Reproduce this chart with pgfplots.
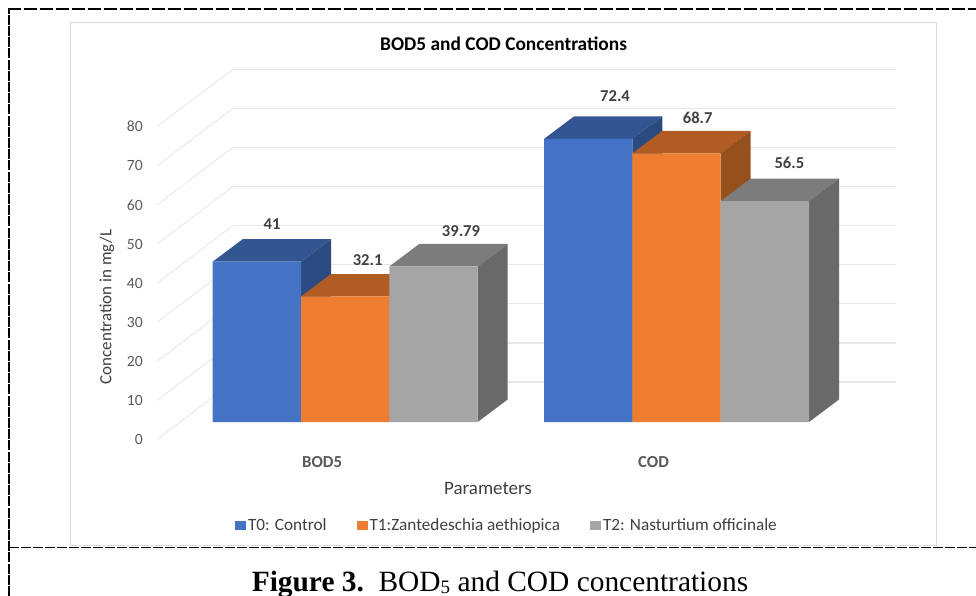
\documentclass[border=0pt]{standalone}
\usepackage{pgfplots}
\usepackage{fontspec}
\pgfplotsset{compat=1.18}
\setmainfont{Carlito}
\newfontfamily\capfont{Liberation Serif}
\definecolor{cblue}{HTML}{4472C4}
\definecolor{cblueT}{HTML}{335693}
\definecolor{cblueS}{HTML}{2B4A80}
\definecolor{corange}{HTML}{ED7D31}
\definecolor{corangeT}{HTML}{B15C22}
\definecolor{corangeS}{HTML}{96501C}
\definecolor{cgray}{HTML}{A5A5A5}
\definecolor{cgrayT}{HTML}{7C7C7C}
\definecolor{cgrayS}{HTML}{696969}
\definecolor{cgrid}{HTML}{E8E8E8}
\definecolor{ctick}{HTML}{595959}
\definecolor{clab}{HTML}{404040}
\pgfplotstableread{
x y dx dy
256.85 41 15.15 37.5
588.15 72.4 26.85 42.4
}\tzero
\pgfplotstableread{
x y dx dy
345.15 32.1 22.5 36.7
676.5 68.7 21.2 35.3
}\tone
\pgfplotstableread{
x y dx dy
433.5 39.79 27.5 35
764.85 56.5 24.5 37.7
}\ttwo
\pgfplotsset{
  frontbar/.style={ybar, bar width=88.3, bar shift=0pt, draw=none, fill=#1,
    nodes near coords={\pgfmathprintnumber[precision=2]{\pgfplotspointmeta}},
    visualization depends on={\thisrow{dx} \as \ldx},
    visualization depends on={\thisrow{dy} \as \ldy},
    every node near coord/.append style={anchor=center, xshift=\ldx pt, yshift=\ldy pt,
      font=\fontsize{16.6}{18}\selectfont\bfseries, text=clab, inner sep=0pt}},
  face/.style={fill=#1, draw=none, forget plot},
}
\begin{document}
\begin{tikzpicture}
\begin{axis}[
  name=ax,
  scale only axis, width=976pt, height=596pt,
  xmin=0, xmax=976, ymin=-44.5, ymax=107.93,
  no markers,
  axis line style={draw=none}, tick style={draw=none},
  /pgf/number format/assume math mode=true,
  ytick={0,10,...,80},
  xtick={345.15,676.5}, xticklabels={BOD5,COD},
  y tick label style={anchor=east, inner sep=0pt, xshift=143pt, yshift=-17.5pt,
    font=\fontsize{15.6}{17}\selectfont, text=ctick},
  x tick label style={anchor=center, inner sep=0pt, xshift=-23pt, yshift=134pt,
    font=\fontsize{16.8}{18}\selectfont\bfseries, text=ctick},
  title={\bfseries BOD5 and COD Concentrations},
  title style={at={(axis description cs:0.516,0.916)}, anchor=center, inner sep=0pt,
    font=\fontsize{19.4}{21}\selectfont},
  xlabel={Parameters},
  xlabel style={at={(axis description cs:0.5,0.181)}, anchor=center, inner sep=0pt,
    font=\fontsize{19}{21}\selectfont, text=clab},
  ylabel={Concentration in mg/L},
  ylabel style={at={(axis description cs:0.1096,0.485)}, anchor=center, inner sep=0pt,
    rotate=0, font=\fontsize{17}{19}\selectfont, text=clab},
  legend columns=-1,
  legend style={at={(axis description cs:0.5194,0.119)}, anchor=center, draw=none, fill=none,
    font=\fontsize{17.2}{19}\selectfont, text=clab, inner sep=0pt,
    /tikz/every even column/.append style={column sep=28pt}},
  legend image code/.code={\path (0pt,-4.5pt) rectangle (11pt,4.5pt);\fill[#1] (0pt,-4.5pt) rectangle (9pt,4.5pt);},
  unbounded coords=jump,
  clip=false,
]
% chart frame
\addplot[draw=black!15, line width=0.9pt, forget plot] coordinates {(70.5,102.2)(936.5,102.2)(936.5,-31.7)(70.5,-31.7)(70.5,102.2)};
% back wall gridlines
\addplot[draw=cgrid, line width=1.2pt, forget plot] coordinates {
(233,10.23)(896,10.23)(nan,nan)
(233,20.23)(896,20.23)(nan,nan)
(233,30.23)(896,30.23)(nan,nan)
(233,40.23)(896,40.23)(nan,nan)
(233,50.23)(896,50.23)(nan,nan)
(233,60.23)(896,60.23)(nan,nan)
(233,70.23)(896,70.23)(nan,nan)
(233,80.23)(896,80.23)(nan,nan)
(233,90.23)(896,90.23)
};
% side wall gridlines
\addplot[draw=cgrid, line width=0.9pt, forget plot] coordinates {
(157,-4.48)(233,10.23)(nan,nan)
(157,5.52)(233,20.23)(nan,nan)
(157,15.52)(233,30.23)(nan,nan)
(157,25.52)(233,40.23)(nan,nan)
(157,35.52)(233,50.23)(nan,nan)
(157,45.52)(233,60.23)(nan,nan)
(157,55.52)(233,70.23)(nan,nan)
(157,65.52)(233,80.23)(nan,nan)
(157,75.52)(233,90.23)
};
% T0
\addplot[face=cblueT] coordinates {(212.7,41)(301,41)(331,46.75)(242.7,46.75)} --cycle;
\addplot[face=cblueS] coordinates {(301,0)(331,5.75)(331,46.75)(301,41)} --cycle;
\addplot[face=cblueT] coordinates {(544,72.4)(632.3,72.4)(662.3,78.15)(574,78.15)} --cycle;
\addplot[face=cblueS] coordinates {(632.3,0)(662.3,5.75)(662.3,78.15)(632.3,72.4)} --cycle;
\addplot[frontbar=cblue] table[x=x,y=y] {\tzero};
\addlegendentry{T0: Control}
% T1
\addplot[face=corangeT] coordinates {(301,32.1)(389.3,32.1)(419.3,37.85)(331,37.85)} --cycle;
\addplot[face=corangeS] coordinates {(389.3,0)(419.3,5.75)(419.3,37.85)(389.3,32.1)} --cycle;
\addplot[face=corangeT] coordinates {(632.3,68.7)(720.7,68.7)(750.7,74.45)(662.3,74.45)} --cycle;
\addplot[face=corangeS] coordinates {(720.7,0)(750.7,5.75)(750.7,74.45)(720.7,68.7)} --cycle;
\addplot[frontbar=corange] table[x=x,y=y] {\tone};
\addlegendentry{T1:Zantedeschia aethiopica}
% T2
\addplot[face=cgrayT] coordinates {(389.3,39.79)(477.7,39.79)(507.7,45.54)(419.3,45.54)} --cycle;
\addplot[face=cgrayS] coordinates {(477.7,0)(507.7,5.75)(507.7,45.54)(477.7,39.79)} --cycle;
\addplot[face=cgrayT] coordinates {(720.7,56.5)(809,56.5)(839,62.25)(750.7,62.25)} --cycle;
\addplot[face=cgrayS] coordinates {(809,0)(839,5.75)(839,62.25)(809,56.5)} --cycle;
\addplot[frontbar=cgray] table[x=x,y=y] {\ttwo};
\addlegendentry{T2: Nasturtium officinale}
% page frame
\addplot[draw=black, line width=2pt, dash pattern=on 10pt off 1.2pt, forget plot] coordinates {(9,-44.5)(9,105.6)};
\addplot[draw=black, line width=1.8pt, dash pattern=on 13pt off 3pt, forget plot] coordinates {(8,105.6)(976,105.6)};
\addplot[draw=black, line width=1.2pt, dash pattern=on 10pt off 2pt, forget plot] coordinates {(9,-32)(976,-32)};
\node[font={\capfont\fontsize{29.4}{32}\selectfont}, inner sep=0pt, anchor=center] at (axis cs:500,-41.6)
  {\textbf{Figure 3.}\enspace BOD\raisebox{-1.5pt}{\fontsize{19}{20}\selectfont 5} and COD concentrations};
\end{axis}
\pgfresetboundingbox
\path[use as bounding box] (ax.south west) rectangle (ax.north east);
\end{tikzpicture}
\end{document}
